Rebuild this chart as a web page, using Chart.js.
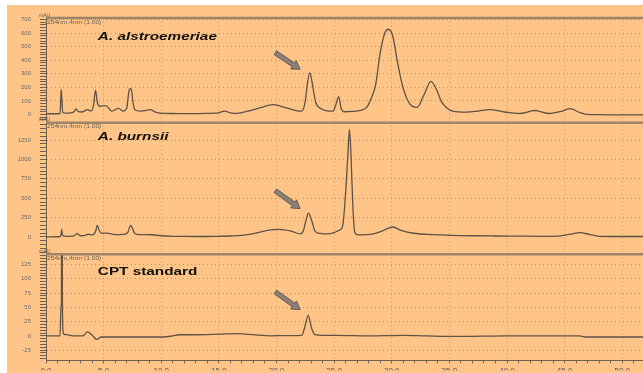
<!DOCTYPE html>
<html>
<head>
<meta charset="utf-8">
<script src="https://cdn.jsdelivr.net/npm/chart.js@4.4.1/dist/chart.umd.min.js"></script>
<style>
  html, body { margin: 0; padding: 0; background: #fff; }
  #wrap { position: absolute; left: 7px; top: 5px; width: 636px; height: 368px; background: #ffc487; }
  canvas { display: block; }
</style>
</head>
<body>
<div id="wrap"><canvas id="chrom" width="636" height="368"></canvas></div>
<script>
// retention time (min) / absorbance (mAU)
const alsTime = [0, 1.0, 1.22, 1.28, 1.32, 1.37, 1.45, 1.7, 2.2, 2.45, 2.6, 2.8, 3.1, 3.6, 3.9, 4.12, 4.3, 4.45, 4.7, 5.2,
  5.7, 6.3, 6.7, 7.0, 7.2, 7.3, 7.4, 7.55, 7.7, 8.2, 8.6, 9.0, 9.5, 10.2, 11, 12, 13, 14, 15, 15.5,
  16, 16.6, 17.5, 18.6, 19.7, 20.8, 21.7, 22.2, 22.5, 22.7, 22.9, 23.1, 23.4, 23.8, 24.3, 24.9, 25.15, 25.4, 25.6, 25.85,
  26.6, 27.3, 27.8, 28.1, 28.6, 29.0, 29.4, 29.7, 30.1, 30.5, 31.0, 31.6, 32.2, 32.8, 33.4, 33.9, 34.3, 34.8, 35.3, 36.5,
  37.5, 38.5, 39.8, 41.1, 42.4, 43.7, 44.8, 45.5, 46.2, 46.9, 48, 50, 51.8];
const alsAbs = [5, 5, 6, 110, 182, 120, 15, 10, 12, 22, 40, 22, 18, 35, 25, 65, 180, 90, 60, 65,
  25, 45, 25, 45, 175, 190, 185, 90, 35, 25, 28, 35, 18, 8, 7, 6, 6, 8, 12, 25,
  12, 8, 24, 50, 72, 50, 28, 24, 100, 240, 306, 230, 90, 45, 28, 24, 72, 132, 47, 20,
  22, 30, 50, 96, 218, 455, 600, 628, 575, 383, 190, 74, 52, 145, 244, 180, 96, 46, 24, 17,
  25, 35, 18, 7, 29, 7, 25, 43, 18, 0, -2, -3, -3];

const burTime = [0, 1.2, 1.3, 1.36, 1.43, 1.7, 2.4, 2.7, 3.0, 3.4, 3.65, 4.0, 4.3, 4.45, 4.6, 4.8, 5.3, 6.0, 6.7, 7.1,
  7.35, 7.5, 7.7, 7.9, 8.5, 9.2, 10, 11, 12, 13, 14, 15, 16, 17, 18, 19.2, 20.2, 21.2, 22.1, 22.35,
  22.6, 22.77, 23.05, 23.35, 23.8, 24.4, 25.0, 25.4, 25.7, 25.85, 26.05, 26.2, 26.33, 26.45, 26.55, 26.65, 26.8, 27.0, 27.4, 28.4,
  29.3, 30.1, 30.8, 31.9, 33.6, 35.1, 37, 39, 41, 43, 44.5, 45.5, 46.3, 47.2, 48, 50, 51.8];
const burAbs = [0, 2, 25, 98, 20, 8, 10, 43, 15, 20, 34, 25, 70, 150, 90, 50, 50, 30, 33, 60,
  150, 110, 45, 33, 30, 28, 15, 8, 6, 5, 5, 8, 12, 20, 42, 85, 98, 77, 40, 90,
  238, 306, 213, 72, 45, 38, 55, 85, 120, 277, 700, 1085, 1390, 1100, 700, 319, 56, 30, 25, 38,
  85, 128, 85, 47, 30, 21, 15, 12, 10, 8, 10, 35, 56, 30, 8, 5, 5];

const cptTime = [0, 1.22, 1.3, 1.34, 1.37, 1.42, 1.47, 1.55, 1.8, 2.5, 3.2, 3.6, 4.0, 4.4, 4.8, 6, 8, 10.2, 11, 11.6,
  13, 15, 16.5, 19.4, 21, 22.2, 22.45, 22.75, 23.05, 23.35, 24, 25.2, 28, 31, 33, 36, 40, 44, 46.3, 46.8, 50, 51.8];
const cptAbs = [0, 0, 52, 56, 600, 81, 10, 3, 2, 0, 0, 7, 1, -6, -2, -2, -2, -2, 0, 2,
  2, 3, 4, 0, 0.5, 1, 15, 36, 13, 2, 1, 1, 0, 1, 0, -1, 0, 0, 0, -2, -2, -2];

const panelTitles = ['A. alstroemeriae', 'A. burnsii', 'CPT standard'];
const xLabels = [0, 5, 10, 15, 20, 25, 30, 35, 40, 45, 50];
const alsLabels = [0, 100, 200, 300, 400, 500, 600, 700];
const burLabels = [0, 250, 500, 750, 1000, 1250];
const cptLabels = [-25, 0, 25, 50, 75, 100, 125];

// arrows pointing at the CPT peak: [time, value] tail -> head
const arrowTail = [[19.9, 455], [19.9, 596], [19.9, 77]];
const arrowHead = [[22.05, 333], [22.05, 366], [22.05, 46]];
// where each title sits: [time, value]
const titleAt = [[4.5, 552], [4.5, 1253], [4.5, 107]];

const lineCol = '#5e5145';
const gridCol = 'rgba(150, 105, 60, 0.55)';
const axisCol = '#6f6152';

function toPoints(t, v) {
  return t.map((x, i) => ({ x: x, y: v[i] }));
}

function yAxis(min, max, step, labels, weight) {
  return {
    type: 'linear', position: 'left', stack: 'panels', stackWeight: weight,
    min: min, max: max,
    afterFit(scale) { scale.width = 39; },
    border: { color: axisCol, width: 1, dash: [1, 3] },
    grid: {
      color: c => (c.tick && labels.includes(c.tick.value) && c.tick.value !== 0) ? gridCol : 'transparent',
      tickColor: axisCol, tickLength: 6, lineWidth: 1
    },
    ticks: {
      stepSize: step, includeBounds: false, autoSkip: false, padding: 9,
      color: '#6a6a6a', font: { size: 6, family: 'Liberation Sans' },
      callback: v => labels.includes(v) ? String(v) : ''
    }
  };
}

// clip each trace to its own panel
const panelClip = {
  id: 'panelClip',
  beforeDatasetDraw(chart, args) {
    const ys = args.meta.yScale, a = chart.chartArea, ctx = chart.ctx;
    ctx.save();
    ctx.beginPath();
    ctx.rect(a.left, ys.top, a.right - a.left, ys.bottom - ys.top);
    ctx.clip();
  },
  afterDatasetDraw(chart) { chart.ctx.restore(); }
};

function drawArrow(ctx, x0, y0, x1, y1) {
  const ang = Math.atan2(y1 - y0, x1 - x0);
  const len = Math.hypot(x1 - x0, y1 - y0);
  const hl = 8, hw = 5, sw = 2.2;
  ctx.save();
  ctx.translate(x0, y0);
  ctx.rotate(ang);
  ctx.beginPath();
  ctx.moveTo(0, -sw);
  ctx.lineTo(len - hl, -sw);
  ctx.lineTo(len - hl, -hw);
  ctx.lineTo(len, 0);
  ctx.lineTo(len - hl, hw);
  ctx.lineTo(len - hl, sw);
  ctx.lineTo(0, sw);
  ctx.closePath();
  ctx.fillStyle = '#8a8079';
  ctx.fill();
  ctx.strokeStyle = '#5a5048';
  ctx.lineWidth = 0.8;
  ctx.stroke();
  ctx.restore();
}

const decor = {
  id: 'decor',
  afterDraw(chart) {
    const ctx = chart.ctx, a = chart.chartArea, x = chart.scales.x;
    const ys = [chart.scales.yA, chart.scales.yB, chart.scales.yC];
    ys.forEach((s, i) => {
      // panel top rule
      ctx.save();
      ctx.strokeStyle = '#9e8468';
      ctx.lineWidth = 2.5;
      ctx.beginPath();
      ctx.moveTo(a.left, s.top + 0.5);
      ctx.lineTo(a.right, s.top + 0.5);
      ctx.stroke();
      // tiny detector labels
      ctx.fillStyle = '#6a5e52';
      ctx.font = '5px "Liberation Sans"';
      ctx.fillText('mAU', a.left - 7, s.top - 1);
      ctx.translate(a.left + 1, s.top + 6);
      ctx.scale(1.33, 1);
      ctx.fillText('254nm,4nm (1.00)', 0, 0);
      ctx.restore();

      // title
      ctx.save();
      ctx.fillStyle = '#111';
      ctx.font = (i < 2 ? 'italic ' : '') + 'bold 11.5px "Liberation Sans"';
      ctx.translate(x.getPixelForValue(titleAt[i][0]), s.getPixelForValue(titleAt[i][1]));
      ctx.scale(1.33, 1);
      ctx.fillText(panelTitles[i], 0, 0);
      ctx.restore();

      drawArrow(ctx,
        x.getPixelForValue(arrowTail[i][0]), s.getPixelForValue(arrowTail[i][1]),
        x.getPixelForValue(arrowHead[i][0]), s.getPixelForValue(arrowHead[i][1]));
    });
  }
};

const traceStyle = {
  borderColor: lineCol, borderWidth: 1.3, pointRadius: 0,
  cubicInterpolationMode: 'monotone', fill: false
};

new Chart(document.getElementById('chrom'), {
  type: 'line',
  data: {
    datasets: [
      Object.assign({ label: panelTitles[0], data: toPoints(alsTime, alsAbs), yAxisID: 'yA' }, traceStyle),
      Object.assign({ label: panelTitles[1], data: toPoints(burTime, burAbs), yAxisID: 'yB' }, traceStyle),
      Object.assign({ label: panelTitles[2], data: toPoints(cptTime, cptAbs), yAxisID: 'yC' }, traceStyle)
    ]
  },
  options: {
    responsive: false,
    animation: false,
    layout: { padding: { top: 10, left: 0, right: 0, bottom: 0 } },
    plugins: { legend: { display: false }, tooltip: { enabled: false } },
    scales: {
      x: {
        type: 'linear', position: 'bottom', min: 0, max: 51.8,
        afterFit(scale) { scale.height = 10; },
        border: { color: axisCol, width: 1, dash: [1, 3] },
        grid: {
          color: c => (c.tick && c.tick.value > 0 && xLabels.includes(c.tick.value)) ? gridCol : 'transparent',
          tickColor: axisCol, tickLength: 3
        },
        ticks: {
          stepSize: 1, includeBounds: false, autoSkip: false, maxRotation: 0, minRotation: 0, padding: 3,
          color: '#555', font: { size: 8, family: 'Liberation Sans' },
          callback: v => xLabels.includes(v) ? v.toFixed(1) : ''
        }
      },
      // stacked panels: last defined ends up on top
      yC: yAxis(-43, 144, 5, cptLabels, 108),
      yB: yAxis(-217, 1480, 50, burLabels, 133),
      yA: yAxis(-58, 714, 20, alsLabels, 106)
    }
  },
  plugins: [panelClip, decor]
});
</script>
</body>
</html>
